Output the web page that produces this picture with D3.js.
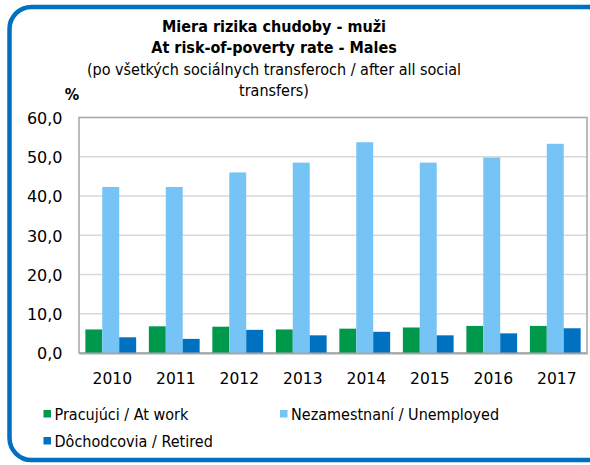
<!DOCTYPE html>
<html>
<head>
<meta charset="utf-8">
<script src="https://cdn.jsdelivr.net/npm/d3@7"></script>
<style>
  body { margin: 0; background: #fff; }
  text { font-family: 'DejaVu Sans Condensed', 'DejaVu Sans', sans-serif; fill: #000; }
</style>
</head>
<body>
<div id="chart"></div>
<script>
const years = ['2010', '2011', '2012', '2013', '2014', '2015', '2016', '2017'];
const atWork = [6.0, 6.8, 6.7, 6.0, 6.2, 6.5, 6.9, 6.9];
const unemployed = [42.3, 42.3, 46.0, 48.5, 53.7, 48.5, 49.8, 53.3];
const retired = [4.0, 3.6, 5.9, 4.5, 5.4, 4.5, 5.0, 6.3];
const yTicks = [0, 10, 20, 30, 40, 50, 60];
const seriesNames = ['Pracujúci / At work', 'Nezamestnaní / Unemployed', 'Dôchodcovia / Retired'];
const titleLines = ['Miera rizika chudoby - muži', 'At risk-of-poverty rate - Males'];
const subtitleLines = ['(po všetkých sociálnych transferoch / after all social', 'transfers)'];

const colours = ['#00994c', '#75c4f5', '#0070c0'];
const series = [atWork, unemployed, retired];

const W = 590, H = 465;
const margin = {top: 117.5, right: 3, bottom: 112, left: 79};
const width = W - margin.left - margin.right;
const height = H - margin.top - margin.bottom;

const svg = d3.select('#chart').append('svg')
  .attr('width', W)
  .attr('height', H);

// card with blue rounded border
svg.append('rect')
  .attr('x', 9.5).attr('y', 7)
  .attr('width', 600).attr('height', 453)
  .attr('rx', 22)
  .attr('fill', '#fff')
  .attr('stroke', '#0070c0')
  .attr('stroke-width', 4.5);

// titles
svg.selectAll('.title')
  .data(titleLines)
  .enter().append('text')
  .attr('x', 274)
  .attr('y', (d, i) => 31.5 + i * 21.5)
  .attr('text-anchor', 'middle')
  .style('font-size', '16px')
  .style('font-weight', 'bold')
  .text((d) => d);

svg.selectAll('.subtitle')
  .data(subtitleLines)
  .enter().append('text')
  .attr('x', 274)
  .attr('y', (d, i) => 74.5 + i * 21.5)
  .attr('text-anchor', 'middle')
  .style('font-size', '16px')
  .text((d) => d);

svg.append('text')
  .attr('x', 72).attr('y', 100)
  .attr('text-anchor', 'middle')
  .style('font-size', '16px')
  .style('font-weight', 'bold')
  .text('%');

const g = svg.append('g')
  .attr('transform', `translate(${margin.left}, ${margin.top})`);

const x = d3.scaleBand().domain(years).range([0, width]).paddingInner(0.2).paddingOuter(0.1);
const x1 = d3.scaleBand().domain([0, 1, 2]).range([0, x.bandwidth()]);
const y = d3.scaleLinear().domain([0, 60]).range([height, 0]);

// gridlines
g.selectAll('.grid')
  .data(yTicks.slice(1, -1))
  .enter().append('line')
  .attr('x1', 0).attr('x2', width)
  .attr('y1', (d) => y(d)).attr('y2', (d) => y(d))
  .attr('stroke', '#d9d9d9')
  .attr('stroke-width', 1.5);

// plot border
g.append('rect')
  .attr('x', 0).attr('y', 0)
  .attr('width', width).attr('height', height)
  .attr('fill', 'none')
  .attr('stroke', '#a6a6a6')
  .attr('stroke-width', 1.5);

// bars
series.forEach((values, s) => {
  g.selectAll('.bar' + s)
    .data(values)
    .enter().append('rect')
    .attr('x', (d, i) => x(years[i]) + x1(s))
    .attr('y', (d) => y(d))
    .attr('width', x1.bandwidth())
    .attr('height', (d) => height - y(d))
    .attr('fill', colours[s]);
});

// y axis
const yAxis = d3.axisLeft(y).tickValues(yTicks).tickSize(0).tickPadding(16.5)
  .tickFormat((d) => d3.format('.1f')(d).replace('.', ','));
g.append('g').call(yAxis)
  .call((a) => a.select('.domain').remove())
  .selectAll('text')
  .style('font-family', "'DejaVu Sans', sans-serif")
  .style('font-size', '16px')
  .attr('dy', '0.36em');

// x axis
const xAxis = d3.axisBottom(x).tickSize(0).tickPadding(20);
g.append('g')
  .attr('transform', `translate(0, ${height})`)
  .call(xAxis)
  .call((a) => a.select('.domain').attr('stroke', '#a6a6a6').attr('stroke-width', 2))
  .selectAll('text')
  .attr('dx', '0.1em')
  .style('font-family', "'DejaVu Sans', sans-serif")
  .style('font-size', '15.5px');

// legend
const legendPos = [[43.5, 419.5], [280, 419.5], [43.5, 446.5]];
const legend = svg.selectAll('.legend')
  .data(seriesNames)
  .enter().append('g')
  .attr('transform', (d, i) => `translate(${legendPos[i][0]}, ${legendPos[i][1]})`);
legend.append('rect')
  .attr('x', 0).attr('y', -9.5)
  .attr('width', 7.5).attr('height', 7.5)
  .attr('fill', (d, i) => colours[i]);
legend.append('text')
  .attr('x', 11)
  .style('font-size', '16px')
  .text((d) => d);
</script>
</body>
</html>
